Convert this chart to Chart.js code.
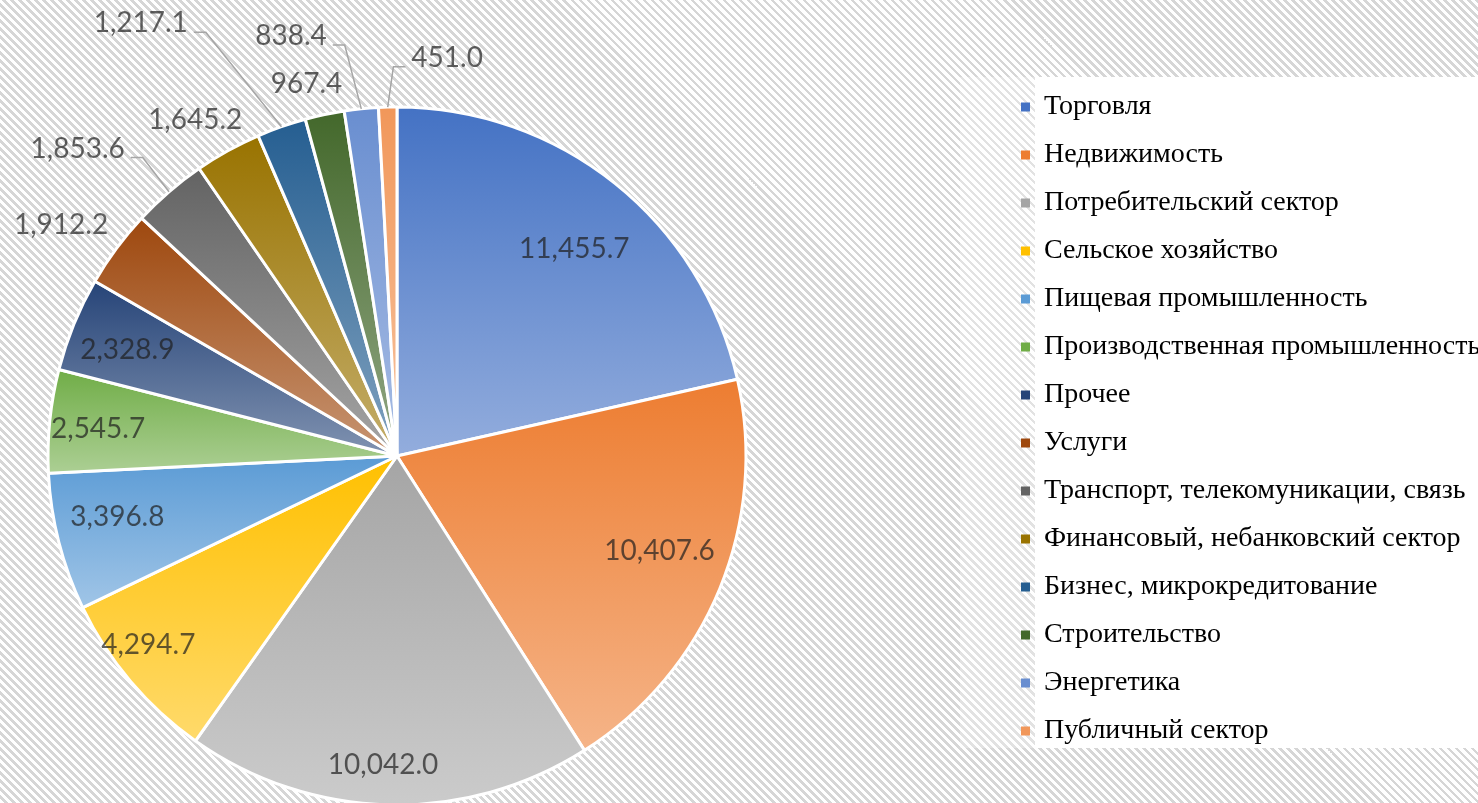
<!DOCTYPE html>
<html lang="ru">
<head>
<meta charset="utf-8">
<title>Структура по отраслям</title>
<script src="https://cdn.jsdelivr.net/npm/chart.js@4.4.1/dist/chart.umd.min.js"></script>
<style>
  html, body { margin: 0; padding: 0; }
  body {
    width: 1478px; height: 803px; overflow: hidden; position: relative;
    background: repeating-linear-gradient(45deg, #ffffff 0px, #ffffff 3px, #d6d6d6 3px, #d6d6d6 5.66px);
  }
  /* white panel behind the legend */
  .legend-fade { position: absolute; left: 960px; top: 77px; width: 75px; height: 671px; background: rgba(255,255,255,0.3); }
  .legend-panel { position: absolute; left: 1035px; top: 77px; width: 443px; height: 671px; background: #ffffff; }
  #wrap { position: absolute; left: -207px; top: 0; width: 1688px; height: 839px; }
</style>
</head>
<body>
<div class="legend-fade"></div>
<div class="legend-panel"></div>
<div id="wrap"><canvas id="pie"></canvas></div>
<script>
  // data (clockwise from 12 o'clock)
  const sectors = [
    "Торговля", "Недвижимость", "Потребительский сектор", "Сельское хозяйство",
    "Пищевая промышленность", "Производственная промышленность", "Прочее", "Услуги",
    "Транспорт, телекомуникации, связь", "Финансовый, небанковский сектор",
    "Бизнес, микрокредитование", "Строительство", "Энергетика", "Публичный сектор"
  ];
  const amounts = [11455.7, 10407.6, 10042.0, 4294.7, 3396.8, 2545.7, 2328.9, 1912.2, 1853.6, 1645.2, 1217.1, 967.4, 838.4, 451.0];

  const sliceColors = [
    "#4472C4", "#ED7D31", "#A5A5A5", "#FFC000", "#5B9BD5", "#70AD47", "#264478",
    "#9E480E", "#636363", "#997300", "#255E91", "#43682B", "#698ED0", "#F1975A"
  ];

  // label placement: [radius factor, angle shift in degrees, leader line]
  const labelSpots = [
    [0.78, 2, false], [0.80, -2.5, false], [0.885, 1.2, false], [0.895, 3, false],
    [0.82, 2, false], [0.86, -0.5, false], [0.83, -0.8, false], [1.168, -2, false],
    [1.27, -5.3, true], [1.123, -2, false], [1.441, -11.3, true], [1.097, -1.7, false],
    [1.241, -8.3, true], [1.15, 8.7, true]
  ];

  const pieRadius = 349;
  const legendWidth = 480;
  const labelColor = "rgba(30,30,30,0.7)";

  function lighten(hex, t) {
    const n = parseInt(hex.slice(1), 16);
    const mix = c => Math.round(c + (255 - c) * t);
    return "rgb(" + mix(n >> 16) + "," + mix((n >> 8) & 255) + "," + mix(n & 255) + ")";
  }

  // vertical gradient per slice, darker at the top of the slice, lighter at the bottom
  function sliceFill(context) {
    const i = context.dataIndex;
    const base = sliceColors[i];
    const chart = context.chart;
    const area = chart.chartArea;
    if (!area || i === undefined) return base;
    const cx = (area.left + area.right) / 2;
    const cy = (area.top + area.bottom) / 2;
    const total = amounts.reduce((a, b) => a + b, 0);
    const before = amounts.slice(0, i).reduce((a, b) => a + b, 0);
    const a0 = before / total * Math.PI * 2;
    const a1 = (before + amounts[i]) / total * Math.PI * 2;
    const ys = [cy, cy - pieRadius * Math.cos(a0), cy - pieRadius * Math.cos(a1)];
    if (a0 <= 0) ys.push(cy - pieRadius);
    if (a0 < Math.PI && a1 > Math.PI) ys.push(cy + pieRadius);
    const g = chart.ctx.createLinearGradient(cx, Math.min(...ys), cx, Math.max(...ys));
    g.addColorStop(0, base);
    g.addColorStop(1, lighten(base, 0.42));
    return g;
  }

  function fmt(v) {
    return v.toLocaleString("en-US", { minimumFractionDigits: 1, maximumFractionDigits: 1 });
  }

  // fixed legend width so the long labels are not cut off
  const legendBox = {
    id: "legendBox",
    beforeInit(chart) {
      const fit = chart.legend.fit;
      chart.legend.fit = function () {
        fit.call(this);
        this.width = legendWidth;
      };
    }
  };

  const sliceLabels = {
    id: "sliceLabels",
    afterDatasetsDraw(chart) {
      const ctx = chart.ctx;
      const arcs = chart.getDatasetMeta(0).data;
      ctx.save();
      ctx.font = "28px Lato";
      ctx.textAlign = "center";
      ctx.textBaseline = "middle";
      arcs.forEach((arc, i) => {
        const [k, shift, leader] = labelSpots[i];
        const mid = (arc.startAngle + arc.endAngle) / 2;
        const a = mid + shift * Math.PI / 180;
        const r = arc.outerRadius;
        const x = arc.x + Math.cos(a) * r * k;
        const y = arc.y + Math.sin(a) * r * k;
        const text = fmt(amounts[i]);
        if (leader) {
          const w = ctx.measureText(text).width;
          const ax = arc.x + Math.cos(mid) * r;
          const ay = arc.y + Math.sin(mid) * r;
          const dir = x < ax ? 1 : -1;
          const ly = y + 9;
          const sx = x + dir * (w / 2 + 6);
          ctx.strokeStyle = "#a6a6a6";
          ctx.lineWidth = 1.5;
          ctx.beginPath();
          ctx.moveTo(sx, ly);
          ctx.lineTo(sx + dir * 12, ly);
          ctx.lineTo(ax, ay);
          ctx.stroke();
        }
        ctx.fillStyle = labelColor;
        ctx.fillText(text, x, y);
      });
      ctx.restore();
    }
  };

  new Chart(document.getElementById("pie"), {
    type: "pie",
    data: {
      labels: sectors,
      datasets: [{
        data: amounts,
        backgroundColor: sliceFill,
        borderColor: "#ffffff",
        borderWidth: 3
      }]
    },
    options: {
      responsive: true,
      maintainAspectRatio: false,
      animation: false,
      events: [],
      radius: pieRadius,
      layout: { padding: { top: 73, right: 0, bottom: 0, left: 0 } },
      plugins: {
        tooltip: { enabled: false },
        legend: {
          position: "right",
          align: "start",
          labels: {
            boxWidth: 9,
            boxHeight: 9,
            padding: 20,
            color: "#1a1a1a",
            font: { family: "'Liberation Serif', 'Times New Roman', serif", size: 28 },
            generateLabels: () => sectors.map((text, i) => ({
              text,
              fillStyle: sliceColors[i],
              strokeStyle: sliceColors[i],
              lineWidth: 0,
              hidden: false,
              index: i
            }))
          }
        }
      }
    },
    plugins: [legendBox, sliceLabels]
  });
</script>
</body>
</html>
